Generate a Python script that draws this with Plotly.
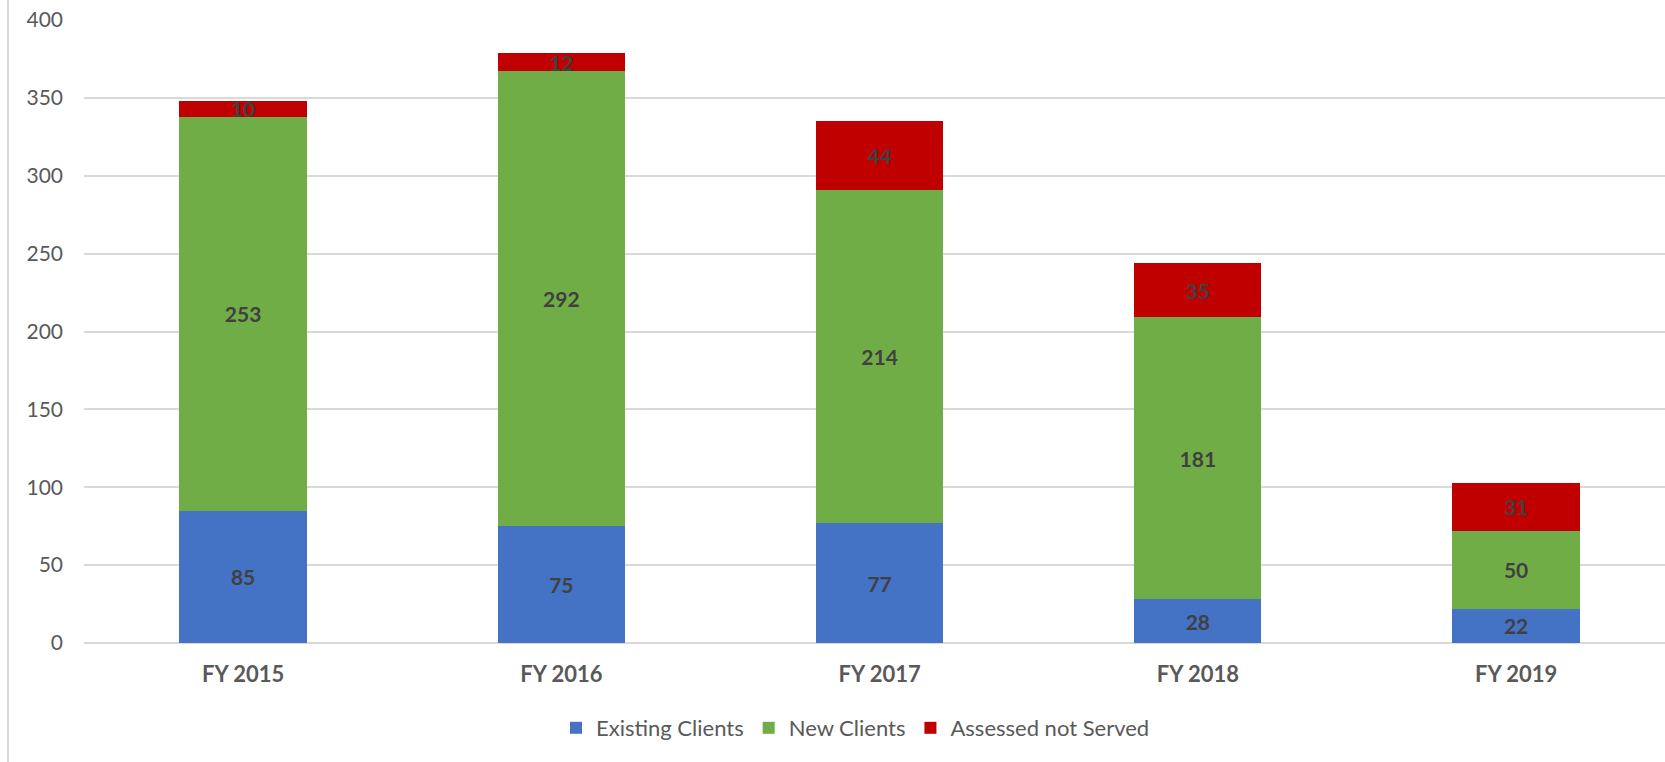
import plotly.graph_objects as go

# Fiscal years and client counts per category
years = ["FY 2015", "FY 2016", "FY 2017", "FY 2018", "FY 2019"]
existing_clients = [85, 75, 77, 28, 22]
new_clients = [253, 292, 214, 181, 50]
assessed_not_served = [10, 12, 44, 35, 31]

series = [
    ("Existing Clients", existing_clients, "#4472C4"),
    ("New Clients", new_clients, "#70AD47"),
    ("Assessed not Served", assessed_not_served, "#C00000"),
]

W, H = 1665, 762
M_L, M_R, M_T, M_B = 84, 0, 20, 119
FONT = "Lato"

fig = go.Figure()
for name, vals, color in series:
    fig.add_trace(go.Bar(
        name=name,
        x=years,
        y=vals,
        marker=dict(color=color, line=dict(width=0)),
        width=0.4,
        text=vals,
        texttemplate="%{y}",
        textposition="inside",
        insidetextanchor="middle",
        textangle=0,
        constraintext="none",
        textfont=dict(family=FONT, size=21, color="#404040", weight="bold"),
    ))

fig.update_layout(
    barmode="stack",
    width=W,
    height=H,
    margin=dict(l=M_L, r=M_R, t=M_T, b=M_B, pad=0),
    paper_bgcolor="white",
    plot_bgcolor="white",
    font=dict(family=FONT, color="#595959"),
    uniformtext=dict(minsize=21, mode="show"),
    showlegend=True,
    legend=dict(
        orientation="h",
        x=(556 - M_L) / (W - M_L - M_R),
        xanchor="left",
        y=-(728 - (H - M_B)) / (H - M_T - M_B),
        yanchor="middle",
        font=dict(family=FONT, size=22, color="#595959"),
        bgcolor="rgba(0,0,0,0)",
        traceorder="normal",
    ),
    xaxis=dict(
        range=[-0.5, 4.468],
        showgrid=False,
        showline=False,
        zeroline=False,
        ticks="",
        ticklabelstandoff=16,
        tickfont=dict(family=FONT, size=22, color="#595959", weight="bold"),
    ),
    yaxis=dict(
        range=[0, 400],
        tickvals=[0, 50, 100, 150, 200, 250, 300, 350, 400],
        showgrid=True,
        gridcolor="#D9D9D9",
        gridwidth=2,
        zeroline=True,
        zerolinecolor="#D9D9D9",
        zerolinewidth=2,
        showline=False,
        ticks="",
        ticklabelstandoff=20,
        tickfont=dict(family=FONT, size=21, color="#595959"),
    ),
)

# Thin frame line along the left edge of the chart area
plot_w = W - M_L - M_R
plot_h = H - M_T - M_B
fig.add_shape(
    type="line",
    xref="paper", yref="paper",
    x0=(8 - M_L) / plot_w, x1=(8 - M_L) / plot_w,
    y0=-M_B / plot_h, y1=1 + M_T / plot_h,
    line=dict(color="#D9D9D9", width=2),
    layer="below",
)

fig.write_html("out.html")
